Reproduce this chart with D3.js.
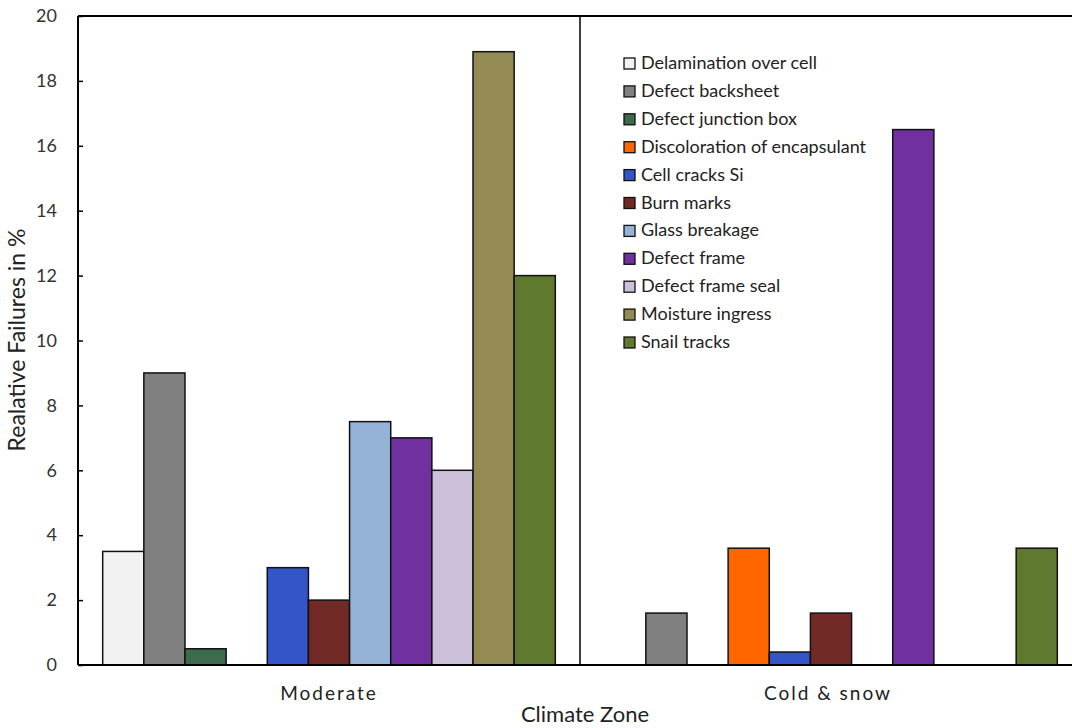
<!DOCTYPE html>
<html><head><meta charset="utf-8">
<script src="https://cdn.jsdelivr.net/npm/d3@7/dist/d3.min.js"></script>
<style>body{margin:0;background:#fff}svg{display:block}</style>
</head><body>
<svg id="c" width="1072" height="728"></svg>
<script>
const zones = ["Moderate", "Cold & snow"];
const failureTypes = ["Delamination over cell","Defect backsheet","Defect junction box","Discoloration of encapsulant","Cell cracks Si","Burn marks","Glass breakage","Defect frame","Defect frame seal","Moisture ingress","Snail tracks"];
const moderateValues = [3.5, 9.0, 0.5, 0, 3.0, 2.0, 7.5, 7.0, 6.0, 18.9, 12.0];
const coldSnowValues = [0, 1.6, 0, 3.6, 0.4, 1.6, 0, 16.5, 0, 0, 3.6];
const yTicks = [0,2,4,6,8,10,12,14,16,18,20];
const colors = ["#f2f2f2","#808080","#3d6b4c","#ff6600","#3355c8","#722a26","#95b3d7","#7030a0","#ccc0da","#948a54","#5f7a2f"];

const svg = d3.select("#c");
const font = "Lato, 'Open Sans', sans-serif";
const L = 78, R = 1082, T = 16, B = 665;
const x0 = d3.scaleBand().domain(zones).range([L, R]).paddingInner(0).paddingOuter(0);
const x1 = d3.scaleBand().domain(failureTypes).range([0, x0.bandwidth()]).paddingInner(0).paddingOuter(0.6);
const y = d3.scaleLinear().domain([0, 20]).range([B, T]);
const seriesByZone = {"Moderate": moderateValues, "Cold & snow": coldSnowValues};

// bars
zones.forEach(z => {
  const g = svg.append("g").attr("transform", `translate(${x0(z)},0)`);
  g.selectAll("rect").data(failureTypes.map((f,i)=>({f, v: seriesByZone[z][i], c: colors[i]})).filter(d=>d.v>0))
    .join("rect")
    .attr("x", d => x1(d.f)).attr("width", x1.bandwidth())
    .attr("y", d => y(d.v)).attr("height", d => y(0) - y(d.v))
    .attr("fill", d => d.c).attr("stroke", "#111").attr("stroke-width", 1.5);
});

// y axis
const yAxis = d3.axisLeft(y).tickValues(yTicks).tickSize(-5).tickPadding(21);
const ya = svg.append("g").attr("transform", `translate(${L},0)`).call(yAxis);
ya.select(".domain").remove();
ya.selectAll(".tick line").attr("stroke", "#000").attr("stroke-width", 1.5);
ya.selectAll(".tick text").attr("font-family", font).attr("font-size", 18).attr("fill", "#333");

// frame
svg.append("line").attr("x1", L).attr("x2", L).attr("y1", T).attr("y2", B).attr("stroke", "#000").attr("stroke-width", 2);
svg.append("line").attr("x1", L).attr("x2", 1072).attr("y1", T).attr("y2", T).attr("stroke", "#000").attr("stroke-width", 2);
svg.append("line").attr("x1", L).attr("x2", 1072).attr("y1", B).attr("y2", B).attr("stroke", "#000").attr("stroke-width", 2);
svg.append("line").attr("x1", x0("Cold & snow")).attr("x2", x0("Cold & snow")).attr("y1", T).attr("y2", B).attr("stroke", "#000").attr("stroke-width", 1.5);

// x labels
zones.forEach(z => {
  svg.append("text").attr("x", x0(z) + x0.bandwidth()/2 - (z === "Cold & snow" ? 3 : 0)).attr("y", 700).attr("text-anchor", "middle")
    .attr("font-family", font).attr("font-size", 19).attr("letter-spacing", 2).attr("fill", "#222").text(z);
});
svg.append("text").attr("x", 585).attr("y", 722).attr("text-anchor", "middle")
  .attr("font-family", font).attr("font-size", 22).attr("fill", "#222").text("Climate Zone");
svg.append("text").attr("transform", "translate(25,340) rotate(-90)").attr("text-anchor", "middle")
  .attr("font-family", font).attr("font-size", 23).attr("fill", "#222").text("Realative Failures in %");

// legend
const lg = svg.append("g").attr("transform", "translate(623,69)");
failureTypes.forEach((f,i) => {
  const r = lg.append("g").attr("transform", `translate(0,${i*27.9})`);
  r.append("rect").attr("x", 1).attr("y", -11).attr("width", 11).attr("height", 11)
    .attr("fill", colors[i]).attr("stroke", "#111").attr("stroke-width", 1.3);
  r.append("text").attr("x", 18).attr("y", 0).attr("font-family", font).attr("font-size", 18).attr("fill", "#222").text(f);
});
</script>
</body></html>
